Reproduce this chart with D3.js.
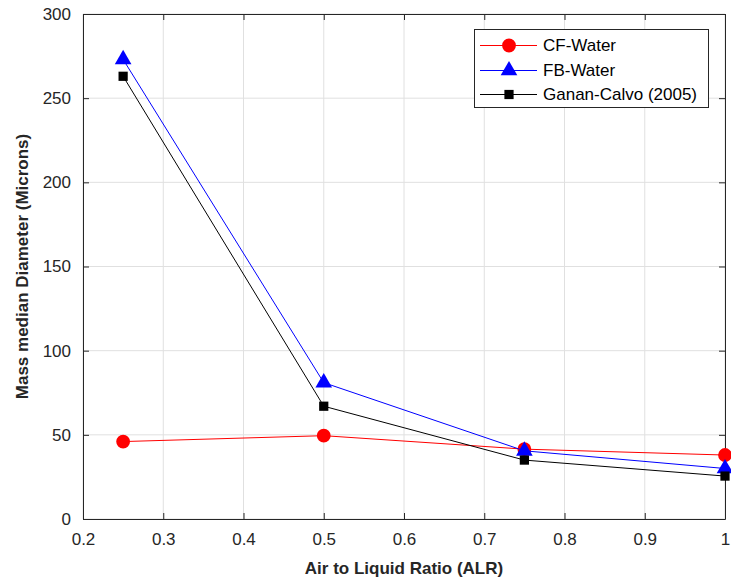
<!DOCTYPE html>
<meta charset="utf-8">
<script src="https://d3js.org/d3.v7.min.js"></script>
<style>
body { margin: 0; background: #fff; }
text { font-family: "Liberation Sans", Arial, sans-serif; }
.grid line { stroke: #e0e0e0; stroke-width: 1; }
.tick text { font-size: 17px; fill: #262626; }
</style>
<svg width="731" height="588"></svg>
<script>

// data
var alr = [0.25, 0.5, 0.75, 1.0];
var cfWater = [46, 49.5, 41.5, 38];
var fbWater = [273, 81, 40.5, 30];
var gananCalvo = [263, 67, 35, 25.5];
var xTicks = [0.2, 0.3, 0.4, 0.5, 0.6, 0.7, 0.8, 0.9, 1];
var yTicks = [0, 50, 100, 150, 200, 250, 300];

var margin = {top: 14, right: 6, bottom: 69, left: 83};
var svg = d3.select("svg"),
    width = +svg.attr("width") - margin.left - margin.right,
    height = +svg.attr("height") - margin.top - margin.bottom;

var g = svg.append("g")
    .attr("transform", "translate(" + margin.left + "," + margin.top + ")");

var x = d3.scaleLinear().domain([0.2, 1]).range([0, width]);
var y = d3.scaleLinear().domain([0, 300]).range([height, 0]);

// gridlines
g.append("g").attr("class", "grid")
  .selectAll("line").data(xTicks).enter().append("line")
    .attr("x1", function(d) { return x(d); }).attr("x2", function(d) { return x(d); })
    .attr("y1", 0).attr("y2", height);
g.append("g").attr("class", "grid")
  .selectAll("line").data(yTicks).enter().append("line")
    .attr("y1", function(d) { return y(d); }).attr("y2", function(d) { return y(d); })
    .attr("x1", 0).attr("x2", width);

// axes (box with inner ticks)
var fmt = function(d) { return d === 1 ? "1" : d3.format(".1f")(d); };
g.append("g")
    .attr("transform", "translate(0," + height + ")")
    .call(d3.axisBottom(x).tickValues(xTicks).tickFormat(fmt).tickSizeInner(-6).tickSizeOuter(0).tickPadding(14));
g.append("g")
    .call(d3.axisLeft(y).tickValues(yTicks).tickSizeInner(-6).tickSizeOuter(0).tickPadding(12));
g.append("g")
    .call(d3.axisTop(x).tickValues(xTicks).tickFormat("").tickSizeInner(-6).tickSizeOuter(0));
g.append("g")
    .attr("transform", "translate(" + width + ",0)")
    .call(d3.axisRight(y).tickValues(yTicks).tickFormat("").tickSizeInner(-6).tickSizeOuter(0));
g.selectAll(".domain").attr("stroke", "#262626");
g.selectAll(".tick line").attr("stroke", "#262626");

// axis labels
svg.append("text")
    .attr("x", margin.left + width / 2)
    .attr("y", 574)
    .attr("text-anchor", "middle")
    .style("font-size", "17px").style("font-weight", "bold").style("fill", "#262626")
    .text("Air to Liquid Ratio (ALR)");
svg.append("text")
    .attr("transform", "translate(28," + (margin.top + height / 2) + ") rotate(-90)")
    .attr("text-anchor", "middle")
    .style("font-size", "17px").style("font-weight", "bold").style("fill", "#262626")
    .text("Mass median Diameter (Microns)");

var series = [
  {name: "CF-Water", values: cfWater, color: "#ff0000", shape: d3.symbolCircle, size: 150},
  {name: "FB-Water", values: fbWater, color: "#0000ff", shape: d3.symbolTriangle, size: 120},
  {name: "Ganan-Calvo (2005)", values: gananCalvo, color: "#000000", shape: d3.symbolSquare, size: 85}
];

var line = d3.line()
    .x(function(d) { return x(d[0]); })
    .y(function(d) { return y(d[1]); });

var plot = g.append("g");
series.forEach(function(s) {
  var pts = alr.map(function(a, i) { return [a, s.values[i]]; });
  plot.append("path")
      .attr("d", line(pts))
      .attr("fill", "none")
      .attr("stroke", s.color)
      .attr("stroke-width", 1);
  plot.selectAll(null).data(pts).enter().append("path")
      .attr("transform", function(d) { return "translate(" + x(d[0]) + "," + y(d[1]) + ")"; })
      .attr("d", d3.symbol().type(s.shape).size(s.size))
      .attr("fill", s.color);
});

// legend
var lg = svg.append("g").attr("transform", "translate(474,29)");
lg.append("rect")
    .attr("x", 0.5).attr("y", 0.5)
    .attr("width", 234).attr("height", 78)
    .attr("fill", "#fff").attr("stroke", "#262626").attr("stroke-width", 1);
series.forEach(function(s, i) {
  var yy = 16.5 + Math.round(i * 24.5);
  lg.append("line")
      .attr("x1", 6).attr("x2", 63).attr("y1", yy).attr("y2", yy)
      .attr("stroke", s.color);
  lg.append("path")
      .attr("transform", "translate(35," + yy + ")")
      .attr("d", d3.symbol().type(s.shape).size(s.size))
      .attr("fill", s.color);
  lg.append("text")
      .attr("x", 69).attr("y", yy).attr("dy", "0.35em")
      .style("font-size", "17px").style("fill", "#000")
      .text(s.name);
});

</script>
